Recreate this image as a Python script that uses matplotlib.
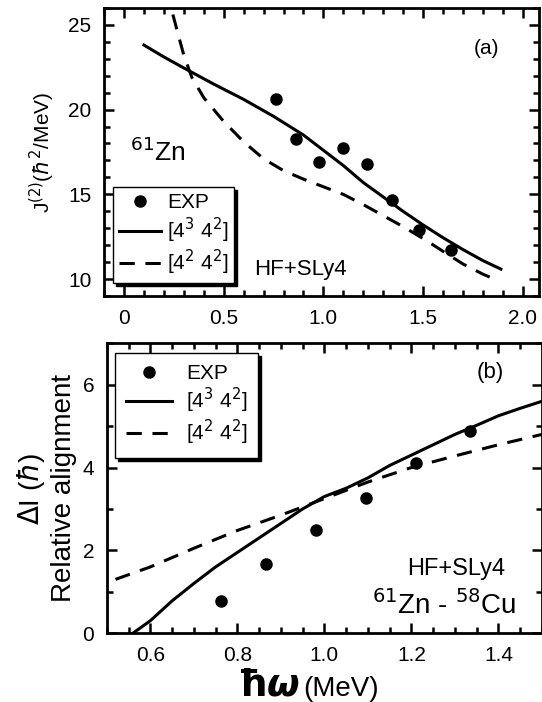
import numpy as np
import matplotlib.pyplot as plt
from matplotlib.ticker import MultipleLocator, FixedLocator, FixedFormatter

plt.rcParams['font.family'] = ['Liberation Sans', 'DejaVu Sans']
plt.rcParams['mathtext.fontset'] = 'dejavusans'

# panel (a): J(2) of 61Zn
expA_x = [0.763, 0.864, 0.98, 1.096, 1.217, 1.345, 1.48, 1.64]
expA_y = [20.6, 18.25, 16.9, 17.75, 16.8, 14.65, 12.9, 11.75]
solA_x = [0.1, 0.2, 0.3, 0.45, 0.6, 0.75, 0.9, 1.0, 1.1, 1.2, 1.3, 1.4, 1.5, 1.6, 1.7, 1.8, 1.89]
solA_y = [23.8, 23.1, 22.45, 21.5, 20.6, 19.6, 18.5, 17.6, 16.7, 15.7, 14.85, 14.0, 13.2, 12.45, 11.75, 11.1, 10.6]
dashA_x = [0.245, 0.27, 0.3, 0.34, 0.4, 0.5, 0.6, 0.7, 0.8, 0.9, 1.0, 1.1, 1.2, 1.3, 1.4, 1.5, 1.6, 1.7, 1.8, 1.86]
dashA_y = [25.6, 24.5, 23.2, 21.9, 20.7, 19.3, 18.1, 17.1, 16.4, 15.9, 15.45, 15.0, 14.4, 13.75, 13.1, 12.4, 11.65, 10.9, 10.3, 10.0]

# panel (b): relative alignment 61Zn - 58Cu
expB_x = [0.763, 0.865, 0.98, 1.095, 1.21, 1.335]
expB_y = [0.77, 1.68, 2.48, 3.27, 4.11, 4.87]
solB_x = [0.56, 0.6, 0.65, 0.7, 0.75, 0.8, 0.85, 0.9, 0.95, 1.0, 1.05, 1.1, 1.15, 1.2, 1.25, 1.3, 1.35, 1.4, 1.45, 1.5]
solB_y = [0.0, 0.3, 0.78, 1.2, 1.6, 1.95, 2.3, 2.65, 3.0, 3.3, 3.5, 3.75, 4.05, 4.3, 4.55, 4.8, 5.02, 5.25, 5.43, 5.6]
dashB_x = [0.52, 0.6, 0.7, 0.8, 0.9, 1.0, 1.1, 1.2, 1.3, 1.4, 1.5]
dashB_y = [1.3, 1.6, 2.05, 2.48, 2.85, 3.25, 3.65, 4.0, 4.28, 4.55, 4.8]

fig = plt.figure(figsize=(5.42, 7.02), dpi=100)
axA = fig.add_axes([0.192, 0.578, 0.802, 0.411])
axB = fig.add_axes([0.197, 0.098, 0.803, 0.413])

lw = 2.2
shadow = {'color': 'k', 'alpha': 1, 'ox': 2, 'oy': -2}
for ax in [axA, axB]:
    for s in ax.spines.values():
        s.set_linewidth(2.0)
    ax.tick_params(which='both', direction='in', top=True, right=True, width=1.8, labelsize=15)
    ax.tick_params(which='major', length=7, pad=9)
    ax.tick_params(which='minor', length=4)

axA.plot(solA_x, solA_y, 'k-', lw=lw, label='[4$^3$ 4$^2$]')
axA.plot(dashA_x, dashA_y, 'k--', lw=lw, dashes=(5, 3.5), label='[4$^2$ 4$^2$]')
axA.plot(expA_x, expA_y, 'ko', ms=8, ls='none', label='EXP')
axA.set_xlim(-0.1, 2.08)
axA.set_ylim(9, 26)
axA.xaxis.set_major_locator(FixedLocator([0, 0.5, 1.0, 1.5, 2.0]))
axA.xaxis.set_major_formatter(FixedFormatter(['0', '0.5', '1.0', '1.5', '2.0']))
axA.xaxis.set_minor_locator(MultipleLocator(0.1))
axA.yaxis.set_major_locator(MultipleLocator(5))
axA.yaxis.set_minor_locator(MultipleLocator(1))
axA.set_ylabel('J$^{(2)}$($\\hbar^2$/MeV)', fontsize=15, labelpad=8)
axA.text(0.85, 0.84, '(a)', transform=axA.transAxes, fontsize=15)
axA.text(0.06, 0.47, '$^{61}$Zn', transform=axA.transAxes, fontsize=19)
axA.text(0.345, 0.075, 'HF+SLy4', transform=axA.transAxes, fontsize=16)
h, l = axA.get_legend_handles_labels()
legA = axA.legend([h[2], h[0], h[1]], [l[2], l[0], l[1]], loc='lower left',
                  bbox_to_anchor=(0.02, 0.045), borderaxespad=0, fontsize=15,
                  fancybox=False, edgecolor='k', shadow=shadow,
                  handlelength=2.0, handletextpad=0.3, borderpad=0.3,
                  labelspacing=0.15, framealpha=1)
legA.get_frame().set_linewidth(1.0)

axB.plot(solB_x, solB_y, 'k-', lw=lw, label='[4$^3$ 4$^2$]')
axB.plot(dashB_x, dashB_y, 'k--', lw=lw, dashes=(5, 3.5), label='[4$^2$ 4$^2$]')
axB.plot(expB_x, expB_y, 'ko', ms=8, ls='none', label='EXP')
axB.set_xlim(0.5, 1.5)
axB.set_ylim(0, 7)
axB.xaxis.set_minor_locator(MultipleLocator(0.05))
axB.yaxis.set_major_locator(MultipleLocator(2))
axB.yaxis.set_minor_locator(MultipleLocator(1))
axB.set_xticks([0.6, 0.8, 1.0, 1.2, 1.4])
axB.set_xticklabels(['0.6', '0.8', '1.0', '1.2', '1.4'])
axB.set_ylabel('$\\Delta$I ($\\hbar$)\nRelative alignment', fontsize=20, labelpad=4, linespacing=1.2)
axB.text(0.443, -0.215, '$\\boldsymbol{\\hbar\\omega}$', transform=axB.transAxes,
         fontsize=27, ha='right', va='baseline')
axB.text(0.452, -0.215, '(MeV)', transform=axB.transAxes,
         fontsize=20, ha='left', va='baseline')
axB.text(0.85, 0.88, '(b)', transform=axB.transAxes, fontsize=16)
axB.text(0.69, 0.2, 'HF+SLy4', transform=axB.transAxes, fontsize=17)
axB.text(0.61, 0.065, '$^{61}$Zn - $^{58}$Cu', transform=axB.transAxes, fontsize=20)
h, l = axB.get_legend_handles_labels()
legB = axB.legend([h[2], h[0], h[1]], [l[2], l[0], l[1]], loc='upper left',
                  bbox_to_anchor=(0.02, 0.965), borderaxespad=0, fontsize=15,
                  fancybox=False, edgecolor='k', shadow=shadow, framealpha=1,
                  handlelength=2.2, handletextpad=0.7, borderpad=0.5,
                  labelspacing=0.15)
legB.get_frame().set_linewidth(1.0)

fig.savefig('out.png', dpi=100)
